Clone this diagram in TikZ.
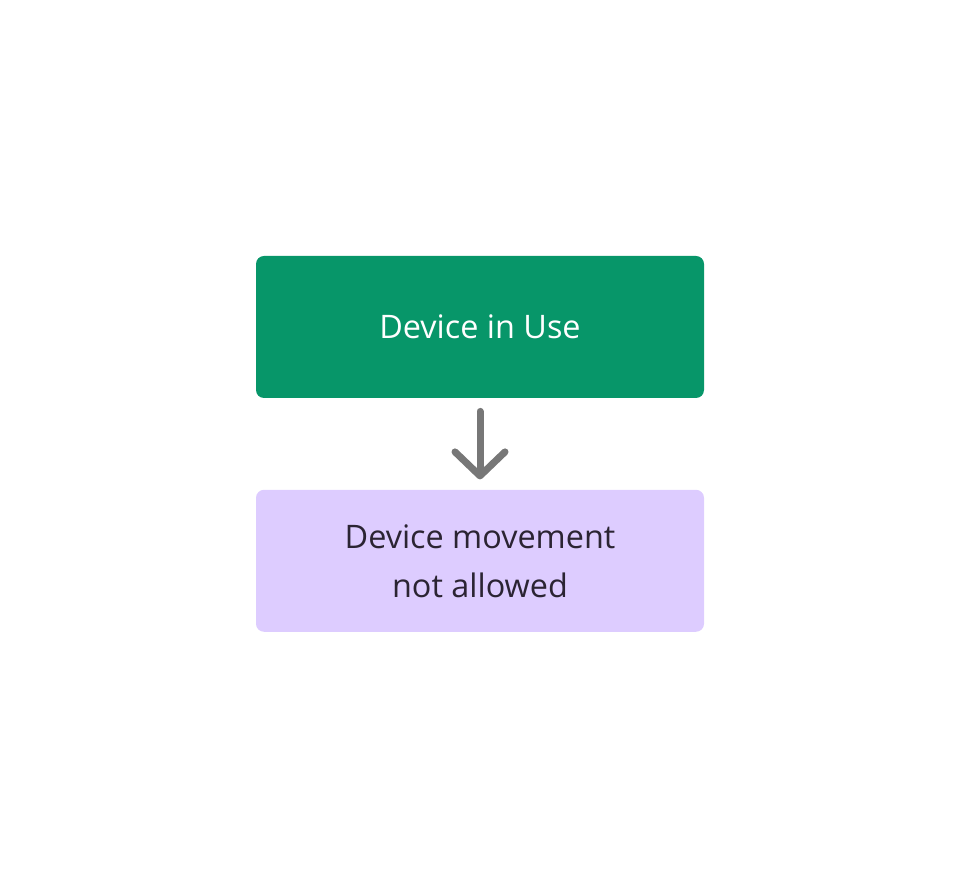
\documentclass[tikz,border=0pt]{standalone}
\usepackage{fontspec}
\setmainfont{Open Sans}
\usepackage{xcolor}
\usetikzlibrary{positioning, arrows.meta}
\definecolor{usegreen}{HTML}{079669}
\definecolor{movelilac}{HTML}{DDCCFF}
\definecolor{movetext}{HTML}{2B2433}
\definecolor{arrowgray}{HTML}{777777}

\begin{document}
\begin{tikzpicture}[x=0.5pt, y=0.5pt,
	statebox/.style={rectangle, rounded corners=4pt, minimum width=224pt, minimum height=71pt, inner sep=0, align=center, font=\fontsize{16.2}{24.5}\selectfont}]
\useasboundingbox (0,0) rectangle (960,888);
\node[statebox, fill=usegreen, text=white] at(480, 561) (inuse) {Device in Use};
\node[statebox, fill=movelilac, text=movetext, below=45.5pt of inuse] (nomove) {Device movement\\not allowed};
\draw[arrowgray, line width=3.5pt, line cap=round, shorten <=6.5pt, shorten >=5pt,
	-{Straight Barb[length=12pt, width=25pt, round]}] (inuse) -- (nomove);
\end{tikzpicture}
\end{document}
